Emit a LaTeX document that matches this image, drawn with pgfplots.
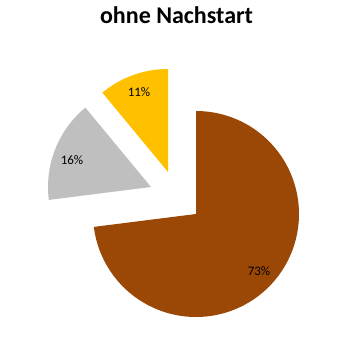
\documentclass[border=0pt]{standalone}
\usepackage{pgfplots}
\pgfplotsset{compat=1.18}
\usepackage{fontspec}
\setmainfont{Carlito}
\definecolor{pbrown}{RGB}{155,72,6}
\definecolor{pgray}{RGB}{191,191,191}
\definecolor{pyellow}{RGB}{255,192,0}
\begin{document}
\begin{tikzpicture}
% slice values (percent)
\def\vA{73}\def\vB{16}\def\vC{11}
% pie centre, radius (px units) and explode offsets
\def\cx{196}\def\cy{125}\def\r{103}
\def\gdx{-45}\def\gdy{27}
\def\ydx{-28}\def\ydy{42}
\pgfmathsetmacro\aA{90-3.6*\vA}
\pgfmathsetmacro\aB{\aA+360-3.6*\vB}
\pgfmathsetmacro\aBe{\aA+360}
\begin{axis}[scale only axis, width=348pt, height=339pt,
  xmin=0, xmax=348, ymin=0, ymax=339, hide axis, clip=false]
\path (rel axis cs:0,0) rectangle (rel axis cs:1,1);
\addplot[fill=pbrown, draw=none, domain=\aA:90, samples=120, variable=\t]
  ({\cx+\r*cos(\t)},{\cy+\r*sin(\t)}) -- (axis cs:\cx,\cy) -- cycle;
\addplot[fill=pgray, draw=none, domain=\aB:\aBe, samples=40, variable=\t]
  ({\cx+\gdx+\r*cos(\t)},{\cy+\gdy+\r*sin(\t)}) -- (axis cs:\cx+\gdx,\cy+\gdy) -- cycle;
\addplot[fill=pyellow, draw=none, domain=90:\aB, samples=40, variable=\t]
  ({\cx+\ydx+\r*cos(\t)},{\cy+\ydy+\r*sin(\t)}) -- (axis cs:\cx+\ydx,\cy+\ydy) -- cycle;
\node[font=\fontsize{13}{15}\selectfont] at (axis cs:259,68) {\vA\%};
\node[font=\fontsize{13}{15}\selectfont] at (axis cs:72,179) {\vB\%};
\node[font=\fontsize{13}{15}\selectfont] at (axis cs:139,247) {\vC\%};
\node[font=\fontsize{24}{28}\selectfont\bfseries, anchor=base] at (axis cs:176.5,315) {ohne Nachstart};
\end{axis}
\end{tikzpicture}
\end{document}
